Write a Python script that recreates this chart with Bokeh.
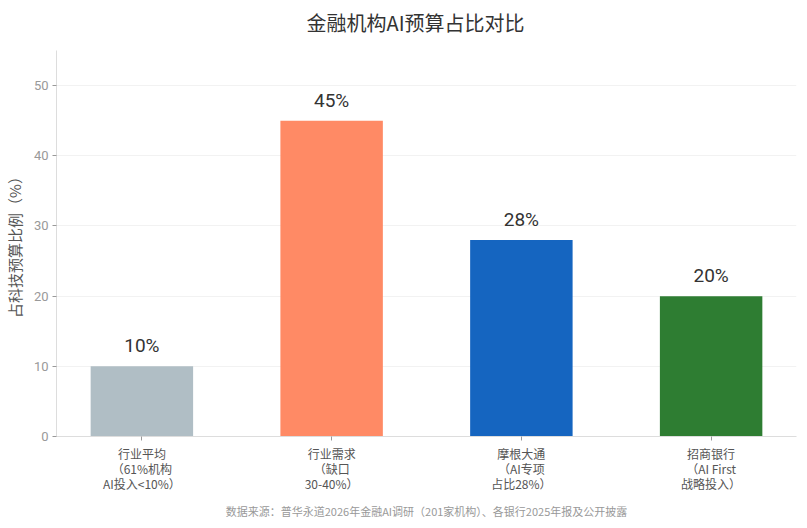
from bokeh.plotting import figure
from bokeh.models import Range1d, FixedTicker, Title, ColumnDataSource
from bokeh.core.properties import value
from bokeh.embed import file_html
from bokeh.resources import INLINE

categories = ["行业平均\n（61%机构\nAI投入<10%）", "行业需求\n（缺口\n30-40%）",
              "摩根大通\n（AI专项\n占比28%）", "招商银行\n（AI First\n战略投入）"]
values = [10, 45, 28, 20]
colors = ["#B0BEC5", "#FF8A65", "#1565C0", "#2E7D32"]
title_text = "金融机构AI预算占比对比"
ylabel = "占科技预算比例（%）"
footer = "数据来源：普华永道2026年金融AI调研（201家机构）、各银行2025年报及公开披露"
yticks = [0, 10, 20, 30, 40, 50]

xs = list(range(len(values)))
src = ColumnDataSource(dict(x=xs, top=values, color=colors,
                            label=[f"{v}%" for v in values]))

CJK = "Noto Sans CJK SC"

p = figure(title=None, frame_width=740, frame_height=386, output_backend="svg",
           toolbar_location=None,
           x_range=Range1d(-0.45, 3.45), y_range=Range1d(0, 55),
           min_border_left=49, min_border_right=4, min_border_top=50,
           min_border_bottom=76)

# spacer between title and plot area
p.add_layout(Title(text=" ", text_font_size="7px", standoff=0,
                   text_color="#FFFFFF"), "above")
p.add_layout(Title(text=title_text, align="left", offset=250, text_font=CJK,
                   text_font_size="20px", text_font_style="normal",
                   text_color="#333333"), "above")

p.vbar(x="x", top="top", width=0.54, color="color", source=src, line_color=None)
p.text(x="x", y="top", text="label", source=src, text_align="center",
       text_baseline="bottom", y_offset=-9, text_font=value("Roboto"),
       text_font_size="19px", text_color="#333333")

p.xaxis.ticker = FixedTicker(ticks=xs)
p.xaxis.major_label_overrides = {i: c for i, c in zip(xs, categories)}
p.xaxis.major_label_text_font = CJK
p.xaxis.major_label_text_font_size = "12px"
p.xaxis.major_label_text_color = "#555555"
p.xaxis.major_label_text_line_height = 0.9
p.xaxis.major_label_standoff = 4
p.xaxis.minor_tick_line_color = None

p.yaxis.ticker = FixedTicker(ticks=yticks)
p.yaxis.major_label_text_font = "Roboto"
p.yaxis.major_label_text_font_size = "13px"
p.yaxis.major_label_text_color = "#999999"
p.yaxis.major_label_standoff = 4
p.yaxis.axis_label = ylabel
p.yaxis.axis_label_text_font = CJK
p.yaxis.axis_label_text_font_size = "15px"
p.yaxis.axis_label_text_font_style = "normal"
p.yaxis.axis_label_text_color = "#555555"
p.yaxis.axis_label_standoff = 6
p.yaxis.minor_tick_line_color = None

for ax in (p.xaxis, p.yaxis):
    ax.axis_line_color = "#DDDDDD"
    ax.major_tick_line_color = "#999999"
    ax.major_tick_in = 0
    ax.major_tick_out = 4

p.xgrid.grid_line_color = None
p.ygrid.grid_line_color = "#F2F2F2"
p.outline_line_color = None

p.add_layout(Title(text=footer, align="center", text_font=CJK,
                   text_font_size="11px", text_font_style="normal",
                   text_color="#999999", offset=0), "below")

open("out.html", "w").write(file_html(p, INLINE))
